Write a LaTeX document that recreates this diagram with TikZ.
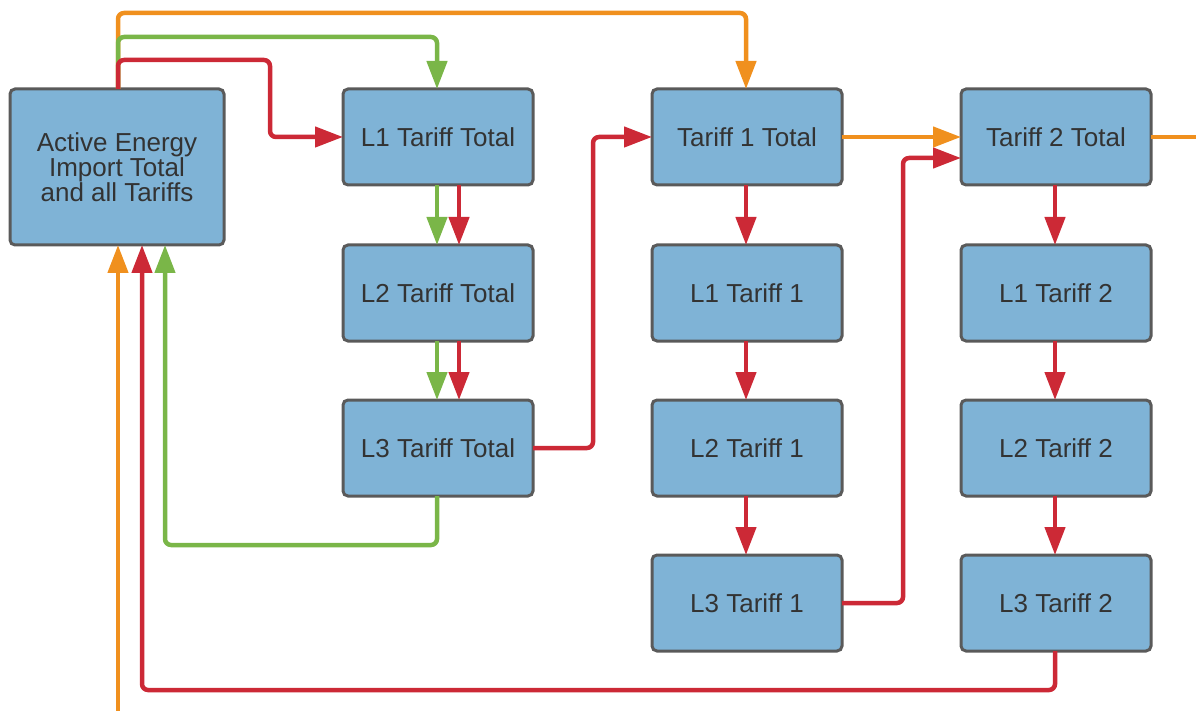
\documentclass[tikz,border=0pt]{standalone}
\usepackage{fontspec}
\setmainfont{Liberation Sans}
\usetikzlibrary{arrows.meta}
\definecolor{boxfill}{HTML}{7FB3D6}
\definecolor{boxline}{HTML}{5A5A5A}
\definecolor{boxtext}{HTML}{333333}
\definecolor{ora}{HTML}{F0901E}
\definecolor{grn}{HTML}{7AB648}
\definecolor{rd}{HTML}{CC2936}
\tikzset{
  box/.style={draw=boxline, fill=boxfill, line width=3pt, rounded corners=5pt,
    minimum width=190pt, minimum height=96pt, outer sep=0pt, text=boxtext,
    font=\fontsize{26}{24}\selectfont, align=center},
  flow/.style={line width=4.5pt, rounded corners=6pt,
    -{Triangle[length=28pt,width=20pt]}},
}
\begin{document}
\begin{tikzpicture}[x=1pt, y=-1pt]
  \useasboundingbox (0,0) rectangle (1196,711);
  \clip (0,0) rectangle (1196,711);

  % boxes
  \node[box, minimum width=214pt, minimum height=156pt] (act) at (117,167) {Active Energy\\Import Total\\and all Tariffs};
  \node[box] (l1t) at (438,137) {L1 Tariff Total};
  \node[box] (l2t) at (438,293) {L2 Tariff Total};
  \node[box] (l3t) at (438,448) {L3 Tariff Total};
  \node[box] (t1t) at (747,137) {Tariff 1 Total};
  \node[box] (l1t1) at (747,293) {L1 Tariff 1};
  \node[box] (l2t1) at (747,448) {L2 Tariff 1};
  \node[box] (l3t1) at (747,603) {L3 Tariff 1};
  \node[box] (t2t) at (1056,137) {Tariff 2 Total};
  \node[box] (l1t2) at (1056,293) {L1 Tariff 2};
  \node[box] (l2t2) at (1056,448) {L2 Tariff 2};
  \node[box] (l3t2) at (1056,603) {L3 Tariff 2};

  % routing levels
  \coordinate (ya) at (0,13);
  \coordinate (yb) at (0,37);
  \coordinate (yc) at (0,60);
  \coordinate (yd) at (0,545);
  \coordinate (ye) at (0,690);
  \coordinate (xa) at (270,0);
  \coordinate (xb) at (593,0);
  \coordinate (xc) at (903,0);
  \coordinate (t2in) at ([yshift=-21pt]t2t.west);
  \coordinate (outr) at (1196,137);
  \coordinate (outb) at (118,711);

  % orange
  \draw[flow, ora] ([xshift=1pt]act.north) -- ([xshift=1pt]act.north |- ya) -| ([xshift=-1pt]t1t.north);
  \draw[flow, ora] (t1t.east) -- (t2t.west);
  \draw[line width=4.5pt, ora] (t2t.east) -- (outr);
  \draw[flow, ora] (outb) -- ([xshift=1pt]act.south);

  % green
  \draw[flow, grn] ([xshift=1pt]act.north) -- ([xshift=1pt]act.north |- yb) -| ([xshift=-1pt]l1t.north);
  \draw[flow, grn] ([xshift=-1pt]l1t.south) -- ([xshift=-1pt]l2t.north);
  \draw[flow, grn] ([xshift=-1pt]l2t.south) -- ([xshift=-1pt]l3t.north);
  \draw[flow, grn] ([xshift=-1pt]l3t.south) -- ([xshift=-1pt]l3t.south |- yd) -| ([xshift=48pt]act.south);

  % red
  \draw[flow, rd] ([xshift=1pt]act.north) -- ([xshift=1pt]act.north |- yc) -| (xa |- l1t.west) -- (l1t.west);
  \draw[flow, rd] ([xshift=21pt]l1t.south) -- ([xshift=21pt]l2t.north);
  \draw[flow, rd] ([xshift=21pt]l2t.south) -- ([xshift=21pt]l3t.north);
  \draw[flow, rd] (l3t.east) -- (xb |- l3t.east) -- (xb |- t1t.west) -- (t1t.west);
  \draw[flow, rd] ([xshift=-1pt]t1t.south) -- ([xshift=-1pt]l1t1.north);
  \draw[flow, rd] ([xshift=-1pt]l1t1.south) -- ([xshift=-1pt]l2t1.north);
  \draw[flow, rd] ([xshift=-1pt]l2t1.south) -- ([xshift=-1pt]l3t1.north);
  \draw[flow, rd] (l3t1.east) -- (xc |- l3t1.east) -- (xc |- t2in) -- (t2in);
  \draw[flow, rd] ([xshift=-1pt]t2t.south) -- ([xshift=-1pt]l1t2.north);
  \draw[flow, rd] ([xshift=-1pt]l1t2.south) -- ([xshift=-1pt]l2t2.north);
  \draw[flow, rd] ([xshift=-1pt]l2t2.south) -- ([xshift=-1pt]l3t2.north);
  \draw[flow, rd] ([xshift=-1pt]l3t2.south) -- ([xshift=-1pt]l3t2.south |- ye) -| ([xshift=25pt]act.south);
\end{tikzpicture}
\end{document}
